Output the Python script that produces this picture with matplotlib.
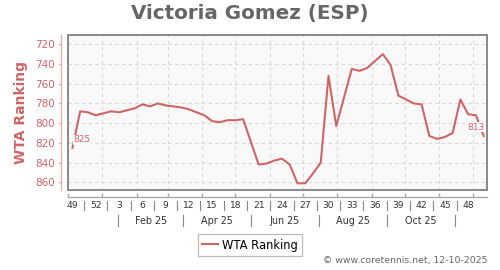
import datetime as dt
import matplotlib
matplotlib.use("Agg")
import matplotlib.pyplot as plt
import matplotlib.dates as mdates
from matplotlib.lines import Line2D
from matplotlib.patches import Rectangle
import matplotlib.transforms as mtransforms

# ---- data ----
years = [2024] * 4 + [2025] * 50
weeks = [49, 50, 51, 52] + list(range(1, 51))
ranking = [825, 788, 789, 792, 790, 788, 789, 787, 785, 781,
           783, 780, 782, 783, 784, 786, 789, 792, 798, 799,
           797, 797, 796, 819, 842, 841, 838, 836, 842, 861,
           861, 851, 840, 752, 803, 774, 745, 747, 744, 737,
           730, 741, 772, 776, 780, 781, 813, 816, 814, 810,
           776, 791, 792, 813]
series_name = "WTA Ranking"
title = "Victoria Gomez (ESP)"
yticks = [720, 740, 760, 780, 800, 820, 840, 860]
month_labels = ["Feb 25", "Apr 25", "Jun 25", "Aug 25", "Oct 25"]
footer = "\u00a9 www.coretennis.net, 12-10-2025"

LINE = "#cc6666"
W, H = 500, 270

dates = [dt.date.fromisocalendar(y, w, 4) for y, w in zip(years, weeks)]
x = mdates.date2num(dates)

fig = plt.figure(figsize=(5, 2.7), dpi=100)
fig.patch.set_facecolor("white")
ax = fig.add_axes([68 / W, 1 - 190 / H, (487 - 68) / W, (190 - 35) / H])
ax.set_facecolor("#f9f9f9")

ax.plot(x, ranking, color=LINE, lw=1.5, label=series_name, zorder=3,
        solid_joinstyle="round")

ax.set_xlim(mdates.date2num(dt.date(2024, 12, 1)), mdates.date2num(dt.date(2025, 12, 14)))
ax.set_ylim(867.8, 710.6)

# month grid
month_starts = [dt.date(2024, 12, 1)] + [dt.date(2025, m, 1) for m in range(1, 13)]
ax.set_xticks(mdates.date2num(month_starts))
ax.set_xticklabels([])
ax.set_yticks(yticks)
ax.grid(True, color="#d8d8d8", linestyle=(0, (3, 3)), linewidth=0.8, zorder=0)

# spines
for s in ["top", "right"]:
    ax.spines[s].set_visible(False)
ax.spines["left"].set_position(("outward", 5))
ax.spines["left"].set_color("#e2b4b4")
ax.spines["left"].set_linewidth(1.0)
ax.spines["bottom"].set_position(("outward", 5))
ax.spines["bottom"].set_color("#aaaaaa")
ax.spines["bottom"].set_linewidth(1.0)
ax.add_patch(Rectangle((0, 0), 1, 1, transform=ax.transAxes, fill=False,
                       edgecolor="#808080", lw=1.3, clip_on=False, zorder=5))

ax.tick_params(axis="y", colors="#e2b4b4", labelcolor=LINE, labelsize=7.5,
               direction="out", length=2.5, width=1, pad=2)
ax.tick_params(axis="x", colors="#aaaaaa", direction="in", length=3, width=1)
for lab in ax.get_yticklabels():
    lab.set_fontfamily("DejaVu Sans")

ax.set_ylabel(series_name, color=LINE, fontsize=10, fontweight="bold", labelpad=5)
fig.text(0.5, 1 - 13 / H, title, ha="center", va="center", fontsize=14.3,
         fontweight="bold", color="#666666")

# week labels row
tr = mtransforms.blended_transform_factory(ax.transData, fig.transFigure)
lab_idx = list(range(0, len(weeks), 3))
for k, i in enumerate(lab_idx):
    ax.text(x[i], 1 - 205 / H, str(weeks[i]), transform=tr, ha="center",
            va="center", fontsize=6.6, color="#333333", clip_on=False)
    if k < len(lab_idx) - 1:
        xs = x[i] + 10.5
        fig.add_artist(Line2D([xs, xs], [1 - 200.5 / H, 1 - 209.5 / H],
                              transform=tr, color="#888888", lw=0.8))

# month labels row
seps = [mdates.date2num(dt.date(2025, m, 15)) for m in (1, 3, 5, 7, 9, 11)]
for s in seps:
    fig.add_artist(Line2D([s, s], [1 - 215 / H, 1 - 226 / H], transform=tr,
                          color="#888888", lw=0.8))
for lab, a, b in zip(month_labels, seps[:-1], seps[1:]):
    ax.text((a + b) / 2, 1 - 221 / H, lab, transform=tr, ha="center", va="center",
            fontsize=6.9, color="#333333", clip_on=False)

# data labels at ends
bb = dict(boxstyle="square,pad=0.05", facecolor="#f9f9f9", edgecolor="none")
ax.annotate(str(ranking[0]), (x[0], ranking[0]), xytext=(0.5, 2.5),
            textcoords="offset points", ha="left", va="bottom", fontsize=6.5,
            color=LINE, bbox=bb, zorder=4)
ax.annotate(str(ranking[-1]), (x[-1], ranking[-1]), xytext=(0.8, 3.0),
            textcoords="offset points", ha="right", va="bottom", fontsize=6.5,
            color=LINE, bbox=bb, zorder=4)

leg = fig.legend(loc="center", bbox_to_anchor=(0.5, 1 - 245 / H), fontsize=8.3,
                 frameon=True, fancybox=False, handlelength=1.4,
                 handletextpad=0.4, borderpad=0.35, borderaxespad=0)
leg.get_frame().set_edgecolor("#aaaaaa")
leg.get_frame().set_linewidth(0.9)

fig.text(488 / W, 1 - 261 / H, footer, ha="right", va="center", fontsize=6.75,
         color="#666666")

fig.savefig("out.png", dpi=100)
